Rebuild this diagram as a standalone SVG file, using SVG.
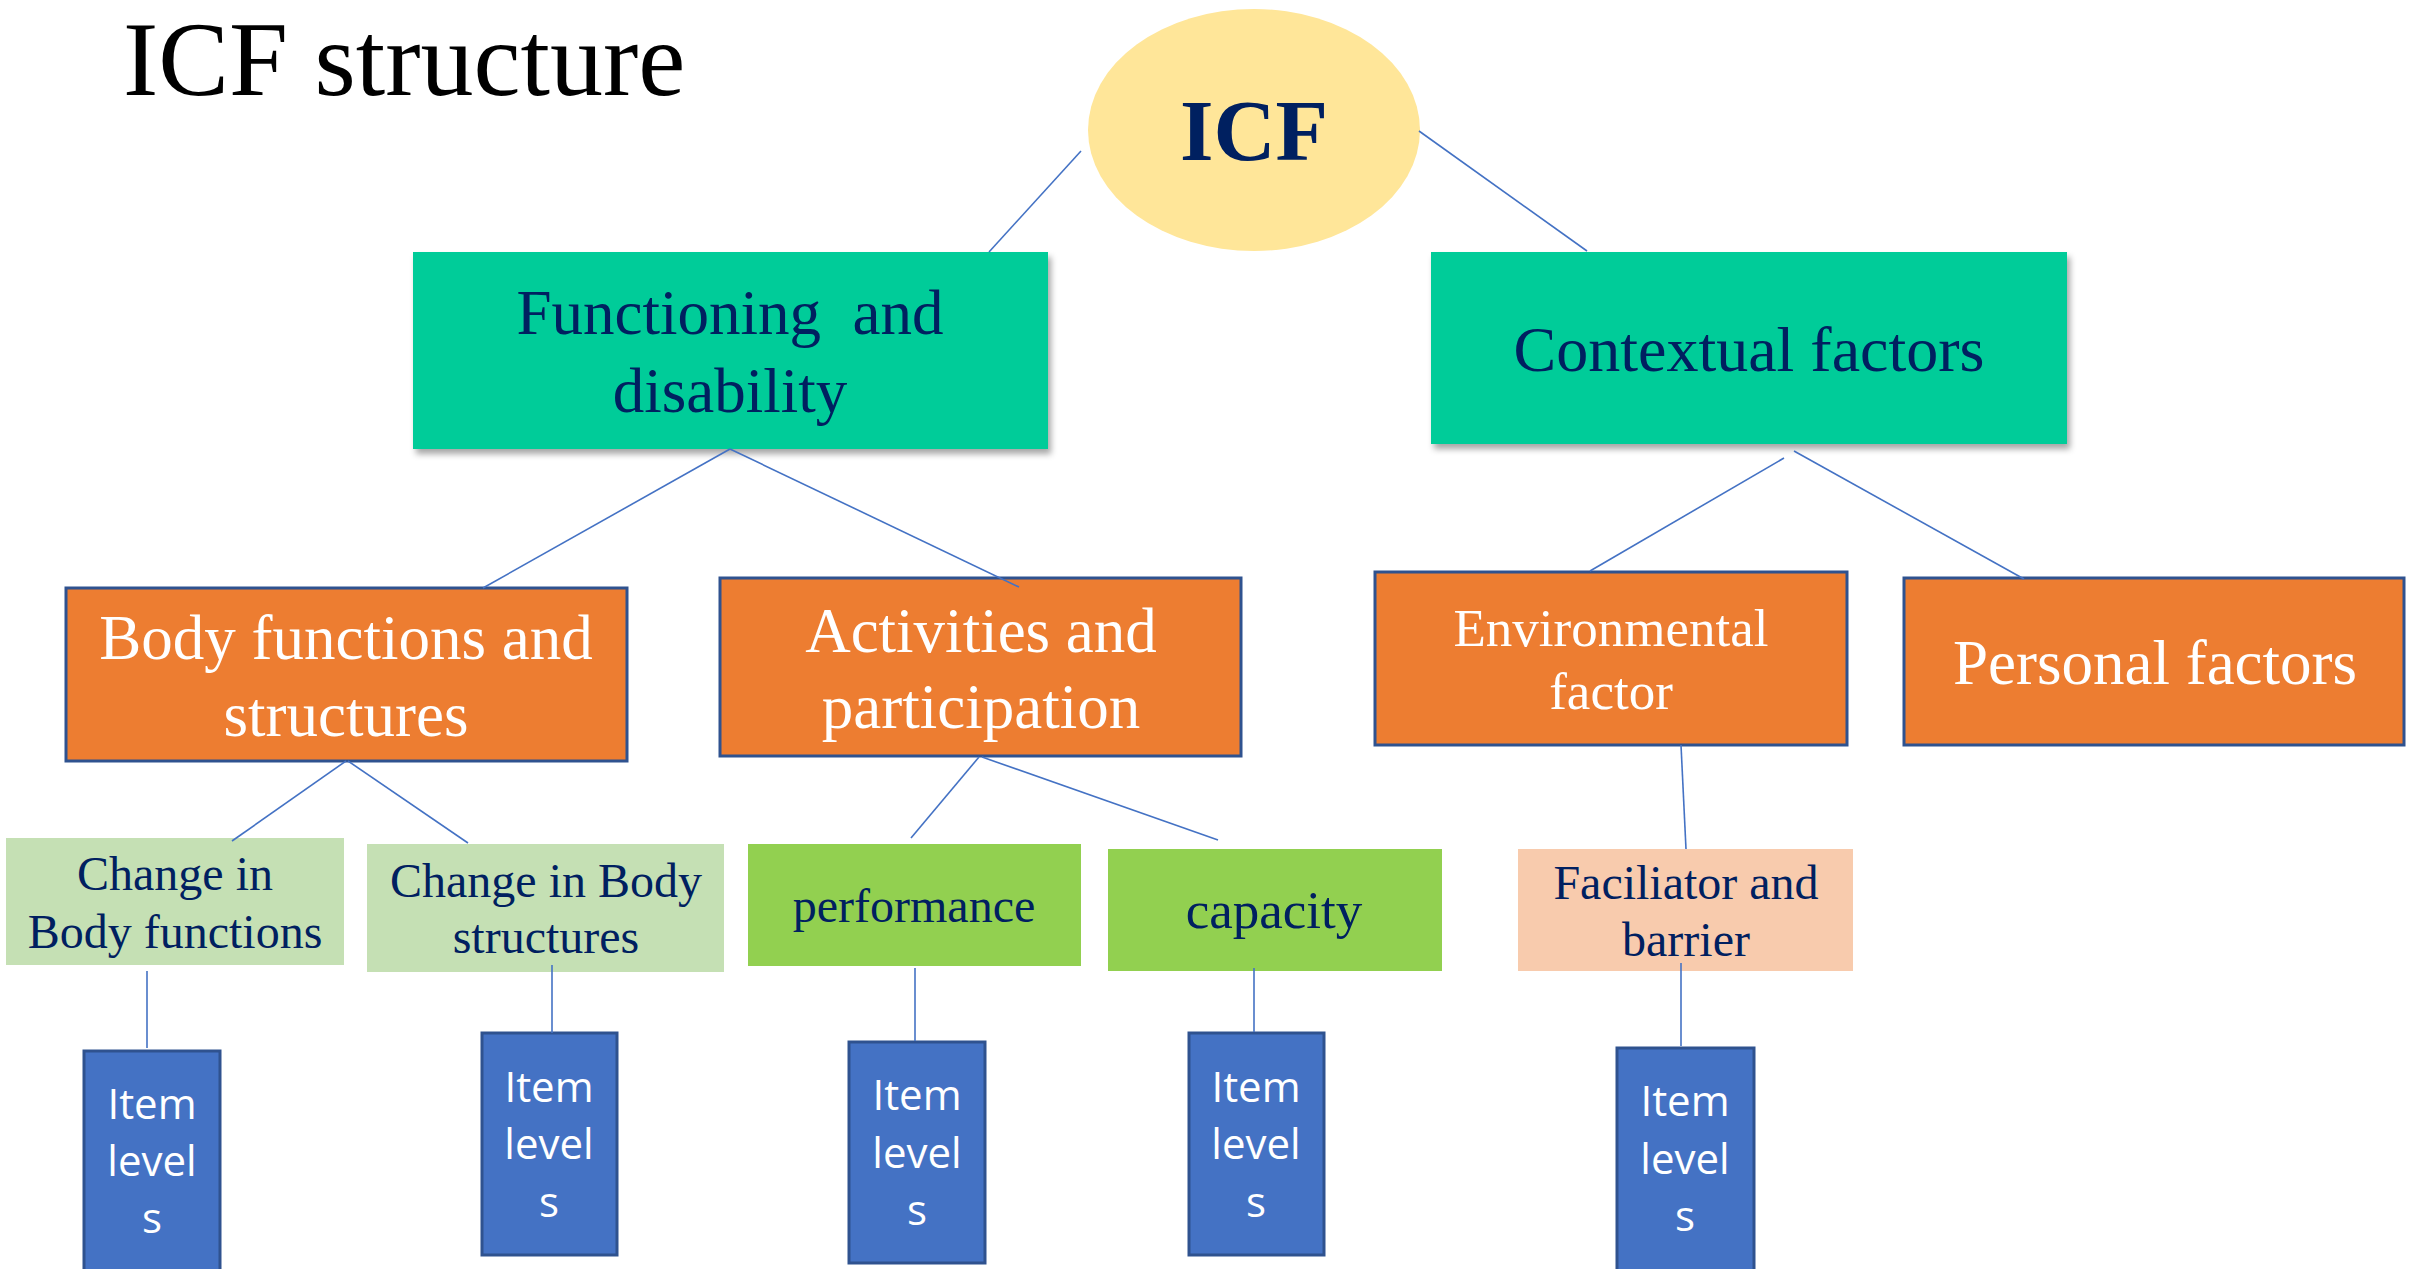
<svg xmlns="http://www.w3.org/2000/svg" width="2410" height="1269" viewBox="0 0 2410 1269">
<defs>
<filter id="sh" x="-5%" y="-5%" width="115%" height="120%">
<feDropShadow dx="3" dy="5" stdDeviation="3" flood-color="#000" flood-opacity="0.35"/>
</filter>
<style>
.serif{font-family:"Liberation Serif","Times New Roman",serif;text-anchor:middle}
.navy{fill:#002060}
.white{fill:#ffffff}
.teal{fill:#00CC99}
.orange{fill:#ED7D31;stroke:#2F528F;stroke-width:3}
.item{fill:#4472C4;stroke:#2F528F;stroke-width:3}
.itxt{font-family:"Open Sans","Noto Sans",sans-serif;font-size:42px;fill:#fff;text-anchor:middle}
.conn line{stroke:#4472C4;stroke-width:1.6}
</style>
</defs>
<rect width="2410" height="1269" fill="#fff"/>
<text x="123" y="95" font-family="Liberation Serif,Times New Roman,serif" font-size="106" fill="#000">ICF structure</text>

<g id="icf">
<ellipse cx="1254" cy="130" rx="166" ry="121" fill="#FFE699"/>
<text x="1254" y="160" class="serif navy" font-size="86" font-weight="bold">ICF</text>
</g>

<g id="functioning">
<rect x="413" y="252" width="635" height="197" class="teal" filter="url(#sh)"/>
<text x="730" y="334" class="serif navy" font-size="63" xml:space="preserve">Functioning  and</text>
<text x="730" y="412" class="serif navy" font-size="63">disability</text>
</g>

<g id="contextual">
<rect x="1431" y="252" width="636" height="192" class="teal" filter="url(#sh)"/>
<text x="1749" y="371" class="serif navy" font-size="64">Contextual factors</text>
</g>

<g id="body">
<rect x="66" y="588" width="561" height="173" class="orange"/>
<text x="346" y="659" class="serif white" font-size="63">Body functions and</text>
<text x="346" y="736" class="serif white" font-size="63">structures</text>
</g>

<g id="activities">
<rect x="720" y="578" width="521" height="178" class="orange"/>
<text x="981" y="652" class="serif white" font-size="63">Activities and</text>
<text x="981" y="728" class="serif white" font-size="63">participation</text>
</g>

<g id="environmental">
<rect x="1375" y="572" width="472" height="173" class="orange"/>
<text x="1611" y="646" class="serif white" font-size="53">Environmental</text>
<text x="1611" y="709" class="serif white" font-size="53">factor</text>
</g>

<g id="personal">
<rect x="1904" y="578" width="500" height="167" class="orange"/>
<text x="2155" y="684" class="serif white" font-size="63">Personal factors</text>
</g>

<g id="change-bf">
<rect x="6" y="838" width="338" height="127" fill="#C5E0B4"/>
<text x="175" y="890" class="serif navy" font-size="48">Change in</text>
<text x="175" y="948" class="serif navy" font-size="48">Body functions</text>
</g>

<g id="change-bs">
<rect x="367" y="844" width="357" height="128" fill="#C5E0B4"/>
<text x="546" y="897" class="serif navy" font-size="48">Change in Body</text>
<text x="546" y="953" class="serif navy" font-size="48">structures</text>
</g>

<g id="performance">
<rect x="748" y="844" width="333" height="122" fill="#92D050"/>
<text x="914" y="922" class="serif navy" font-size="48">performance</text>
</g>

<g id="capacity">
<rect x="1108" y="849" width="334" height="122" fill="#92D050"/>
<text x="1274" y="928" class="serif navy" font-size="53">capacity</text>
</g>

<g id="faciliator">
<rect x="1518" y="849" width="335" height="122" fill="#F8CBAD"/>
<text x="1686" y="899" class="serif navy" font-size="48">Faciliator and</text>
<text x="1686" y="956" class="serif navy" font-size="48">barrier</text>
</g>

<g id="item1">
<rect x="84" y="1051" width="136" height="222" class="item"/>
<text x="152" y="1119" class="itxt">Item</text>
<text x="152" y="1176" class="itxt">level</text>
<text x="152" y="1233" class="itxt">s</text>
</g>

<g id="item2">
<rect x="482" y="1033" width="135" height="222" class="item"/>
<text x="549" y="1102" class="itxt">Item</text>
<text x="549" y="1159" class="itxt">level</text>
<text x="549" y="1217" class="itxt">s</text>
</g>

<g id="item3">
<rect x="849" y="1042" width="136" height="221" class="item"/>
<text x="917" y="1110" class="itxt">Item</text>
<text x="917" y="1168" class="itxt">level</text>
<text x="917" y="1225" class="itxt">s</text>
</g>

<g id="item4">
<rect x="1189" y="1033" width="135" height="222" class="item"/>
<text x="1256" y="1102" class="itxt">Item</text>
<text x="1256" y="1159" class="itxt">level</text>
<text x="1256" y="1217" class="itxt">s</text>
</g>

<g id="item5">
<rect x="1617" y="1048" width="137" height="225" class="item"/>
<text x="1685" y="1116" class="itxt">Item</text>
<text x="1685" y="1174" class="itxt">level</text>
<text x="1685" y="1231" class="itxt">s</text>
</g>

<g id="connectors" class="conn">
<line x1="1081" y1="151" x2="989" y2="252"/>
<line x1="1419" y1="131" x2="1587" y2="251"/>
<line x1="730" y1="449" x2="483" y2="588"/>
<line x1="730" y1="449" x2="1019" y2="587"/>
<line x1="1784" y1="458" x2="1590" y2="571"/>
<line x1="1794" y1="451" x2="2024" y2="579"/>
<line x1="346" y1="761" x2="232" y2="841"/>
<line x1="348" y1="761" x2="468" y2="843"/>
<line x1="979" y1="757" x2="911" y2="838"/>
<line x1="982" y1="757" x2="1218" y2="840"/>
<line x1="1681" y1="745" x2="1686" y2="849"/>
<line x1="147" y1="971" x2="147" y2="1048"/>
<line x1="552" y1="965" x2="552" y2="1033"/>
<line x1="915" y1="968" x2="915" y2="1041"/>
<line x1="1254" y1="968" x2="1254" y2="1032"/>
<line x1="1681" y1="963" x2="1681" y2="1046"/>
</g>
</svg>
